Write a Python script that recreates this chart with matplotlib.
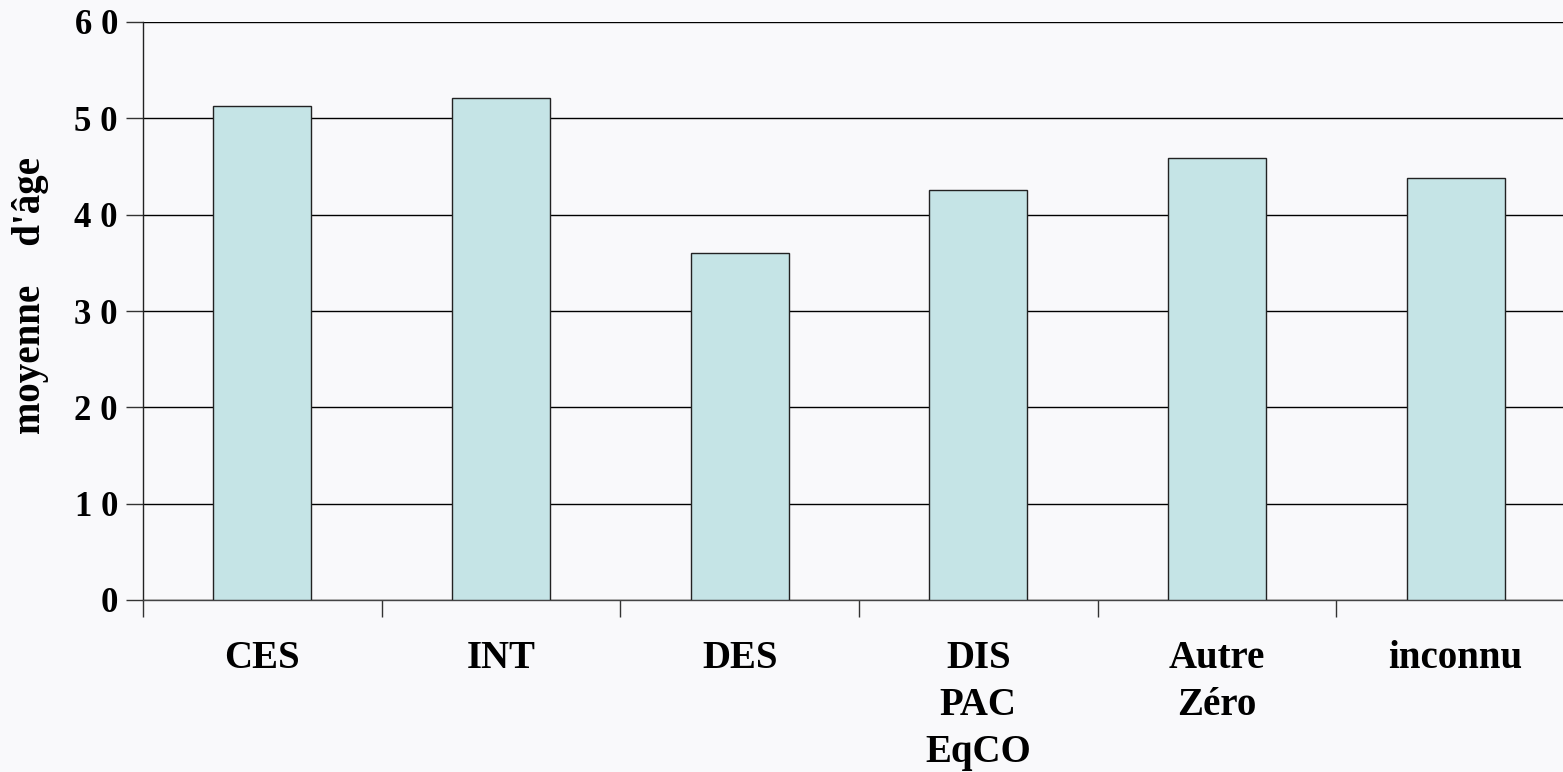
import matplotlib
matplotlib.use("Agg")
import matplotlib.pyplot as plt
import numpy as np

# mean age per category
categories = ["CES", "INT", "DES", "DIS\nPAC\nEqCO", "Autre\nZéro", "inconnu"]
mean_age = [51.3, 52.1, 36.0, 42.6, 45.9, 43.8]
y_ticks = [0, 10, 20, 30, 40, 50, 60]
y_tick_labels = ["0", "1 0", "2 0", "3 0", "4 0", "5 0", "6 0"]
y_title = "moyenne    d'âge"

plt.rcParams["font.family"] = ["Liberation Serif", "DejaVu Serif"]
plt.rcParams["font.weight"] = "bold"

W, H = 1563, 772
bg = "#f9f9fb"
fig = plt.figure(figsize=(W / 100, H / 100), dpi=100, facecolor=bg)
# axes runs past the right edge of the figure, as in the source
ax = fig.add_axes([143 / W, 1 - 600 / H, 1432 / W, 578 / H], facecolor=bg)

x = np.arange(len(categories))
ax.bar(x, mean_age, width=0.41, color="#c5e4e6", edgecolor="#222222",
       linewidth=1.0, zorder=3)

ax.set_ylim(0, 60)
ax.set_xlim(-0.5, len(categories) - 0.5)
ax.set_yticks(y_ticks)
ax.set_yticklabels(y_tick_labels, fontsize=25, fontweight="bold")
ax.yaxis.grid(True, color="black", linewidth=1.0, zorder=1)
ax.tick_params(axis="y", direction="out", length=12, width=1, pad=6,
               color="#333333")

ax.set_xticks(x)
ax.set_xticklabels(categories, fontsize=28, fontweight="bold",
                   linespacing=1.36, va="top")
ax.set_xticks(np.arange(-0.5, len(categories)), minor=True)
ax.tick_params(axis="x", which="major", length=0, pad=29)
ax.tick_params(axis="x", which="minor", direction="out", length=12,
               width=1, color="#333333")

for side in ["top", "right"]:
    ax.spines[side].set_visible(False)
ax.spines["left"].set_color("#222222")
ax.spines["bottom"].set_color("#444444")
ax.spines["left"].set_linewidth(1.0)
ax.spines["bottom"].set_linewidth(1.0)

fig.text(31 / W, 1 - 296 / H, y_title, rotation=90, ha="center",
         va="center", fontsize=28, fontweight="bold")

fig.savefig("out.png", dpi=100, facecolor=bg)
